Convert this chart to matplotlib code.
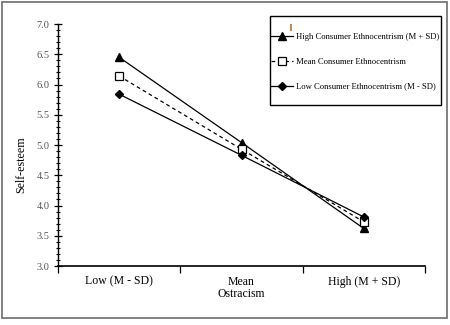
import numpy as np
import matplotlib.pyplot as plt
from matplotlib.patches import Rectangle

categories = ['Low (M - SD)', 'Mean', 'High (M + SD)']
high_ce = [6.45, 5.04, 3.62]
mean_ce = [6.14, 4.93, 3.73]
low_ce = [5.84, 4.83, 3.81]
series_labels = ['High Consumer Ethnocentrism (M + SD)',
                 'Mean Consumer Ethnocentrism',
                 'Low Consumer Ethnocentrism (M - SD)']

plt.rcParams['font.family'] = ['Liberation Serif', 'DejaVu Serif']

W, H = 450, 325
fig = plt.figure(figsize=(4.5, 3.25), dpi=100)
ax = fig.add_axes([58/W, 1-266/H, 367/W, 242/H])

x = np.arange(len(categories)) + 0.5
ax.plot(x, high_ce, color='black', lw=0.9, marker='^', ms=5.5,
        markerfacecolor='black', label=series_labels[0])
ax.plot(x, mean_ce, color='black', lw=0.9, ls=(0, (3, 2.5)), marker='s', ms=5.5,
        markerfacecolor='white', markeredgewidth=0.9, label=series_labels[1])
ax.plot(x, low_ce, color='black', lw=0.9, marker='D', ms=4,
        markerfacecolor='black', label=series_labels[2])

ax.set_xlim(0, 3)
ax.set_ylim(3.0, 7.0)
ax.set_xticks([0, 1, 2, 3])
ax.set_xticklabels([])
ax.set_xticks(x, minor=True)
ax.set_xticklabels(categories, minor=True, fontsize=8.5)
ax.tick_params(axis='x', which='minor', length=0, pad=7)
ax.tick_params(axis='x', which='major', direction='out', length=5, width=0.9)

ax.set_yticks(np.arange(3.0, 7.01, 0.5))
ax.set_yticklabels(['%.1f' % v for v in np.arange(3.0, 7.01, 0.5)], fontsize=7.5, color='#555555')
ax.set_yticks(np.arange(3.0, 7.01, 0.1), minor=True)
ax.tick_params(axis='y', which='major', direction='inout', length=6, width=0.9, pad=3)
ax.tick_params(axis='y', which='minor', direction='inout', length=3.5, width=0.8)

ax.set_xlabel('Ostracism', fontsize=8.5, labelpad=0)
fig.text(21/W, 1-165/H, 'Self-esteem', rotation=90, fontsize=8.6,
         ha='center', va='center')

for s in ['top', 'right']:
    ax.spines[s].set_visible(False)
ax.spines['left'].set_linewidth(1.0)
ax.spines['bottom'].set_linewidth(1.2)

leg = ax.legend(loc='upper left', bbox_to_anchor=(271/W, 1-33/H),
                bbox_transform=fig.transFigure, fontsize=6.2, frameon=False,
                handlelength=2.55, handletextpad=0.35, labelspacing=1.95,
                borderpad=0, borderaxespad=0)

# legend frame
fig.patches.append(Rectangle((270/W, 1-105/H), 171/W, 89/H,
                             transform=fig.transFigure, fill=False,
                             edgecolor='black', lw=1.0))
# frame around the figure
fig.patches.append(Rectangle((2/W, 1-318/H), 445/W, 316/H,
                             transform=fig.transFigure, fill=False,
                             edgecolor='#777777', lw=1.3))
# small orange mark above legend handle
fig.patches.append(Rectangle((290/W, 1-31/H), 2/W, 7/H,
                             transform=fig.transFigure, color='#c8884a', lw=0))

fig.savefig('out.png', dpi=100)
